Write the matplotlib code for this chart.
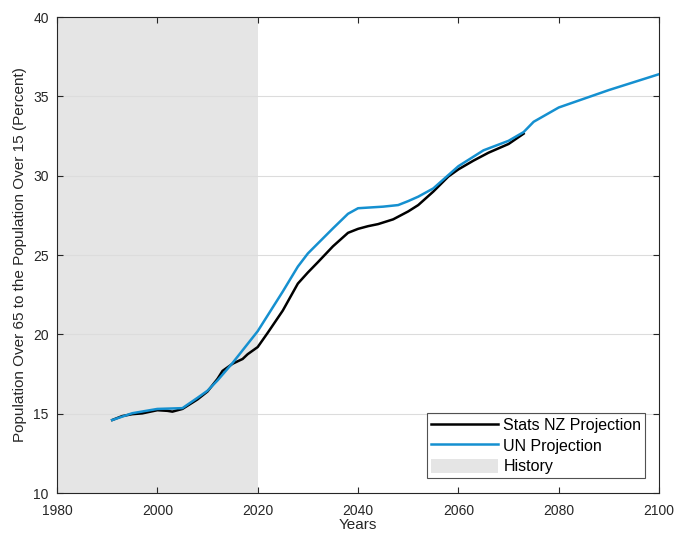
import matplotlib
matplotlib.use("Agg")
import matplotlib.pyplot as plt
from matplotlib.patches import Patch
from matplotlib.lines import Line2D

plt.rcParams['font.family'] = ['Liberation Sans', 'DejaVu Sans']

# Stats NZ projection
nz_years = [1991, 1993, 1995, 1997, 2000, 2002, 2003, 2005, 2008, 2010, 2012, 2013, 2015,
            2017, 2018, 2020, 2022, 2025, 2028, 2030, 2032, 2035, 2038, 2040, 2042, 2044,
            2047, 2050, 2052, 2055, 2058, 2060, 2063, 2066, 2070, 2073]
nz_vals = [14.6, 14.85, 14.97, 15.02, 15.22, 15.18, 15.13, 15.3, 15.9, 16.4, 17.2, 17.7, 18.15,
           18.45, 18.75, 19.2, 20.1, 21.5, 23.2, 23.9, 24.55, 25.55, 26.4, 26.65, 26.82, 26.95,
           27.25, 27.75, 28.15, 29.0, 29.95, 30.4, 30.95, 31.45, 32.0, 32.65]

# UN projection
un_years = [1991, 1995, 2000, 2005, 2008, 2010, 2012, 2015, 2020, 2025, 2028, 2030, 2035,
            2038, 2040, 2045, 2048, 2050, 2052, 2055, 2060, 2065, 2070, 2073, 2075,
            2080, 2085, 2090, 2095, 2100]
un_vals = [14.6, 15.03, 15.3, 15.35, 16.0, 16.45, 17.1, 18.2, 20.2, 22.7, 24.27, 25.1, 26.68,
           27.6, 27.95, 28.05, 28.15, 28.4, 28.68, 29.2, 30.6, 31.6, 32.2, 32.75, 33.4,
           34.3, 34.85, 35.4, 35.9, 36.4]

history_span = (1980, 2020)

fig = plt.figure(figsize=(6.76, 5.33), dpi=100)
ax = fig.add_axes([0.0843, 0.075, 0.8907, 0.893])

ax.axvspan(history_span[0], history_span[1], color='#e5e5e5', lw=0, zorder=0)
ax.plot(nz_years, nz_vals, color='black', lw=1.8, zorder=3)
ax.plot(un_years, un_vals, color='#1590d0', lw=1.8, zorder=4)

ax.set_xlim(1980, 2100)
ax.set_ylim(10, 40)
ax.set_xticks(range(1980, 2101, 20))
ax.set_yticks(range(10, 41, 5))
ax.yaxis.grid(True, color='#dcdcdc', lw=0.8, zorder=1)
ax.set_axisbelow(True)
ax.tick_params(direction='in', top=True, right=True, labelsize=10, colors='#262626',
               length=4, width=0.8)
ax.tick_params(axis='x', pad=8)
ax.tick_params(axis='y', pad=6)
for s in ax.spines.values():
    s.set_color('#262626')
    s.set_linewidth(0.8)

ax.set_xlabel('Years', fontsize=11, color='#262626', labelpad=0)
ax.set_ylabel('Population Over 65 to the Population Over 15 (Percent)', fontsize=11,
              color='#262626', labelpad=4)

handles = [Line2D([0], [0], color='black', lw=1.8),
           Line2D([0], [0], color='#1590d0', lw=1.8),
           Patch(facecolor='#e5e5e5', edgecolor='none')]
leg = ax.legend(handles, ['Stats NZ Projection', 'UN Projection', 'History'],
                loc='lower right', bbox_to_anchor=(0.977, 0.031), fontsize=11.5,
                frameon=True, fancybox=False, edgecolor='#262626', handlelength=4.2,
                handleheight=1.0, handletextpad=0.35, borderpad=0.25, labelspacing=0.32,
                borderaxespad=0)
leg.get_frame().set_linewidth(0.8)

fig.savefig('out.png', dpi=100)
